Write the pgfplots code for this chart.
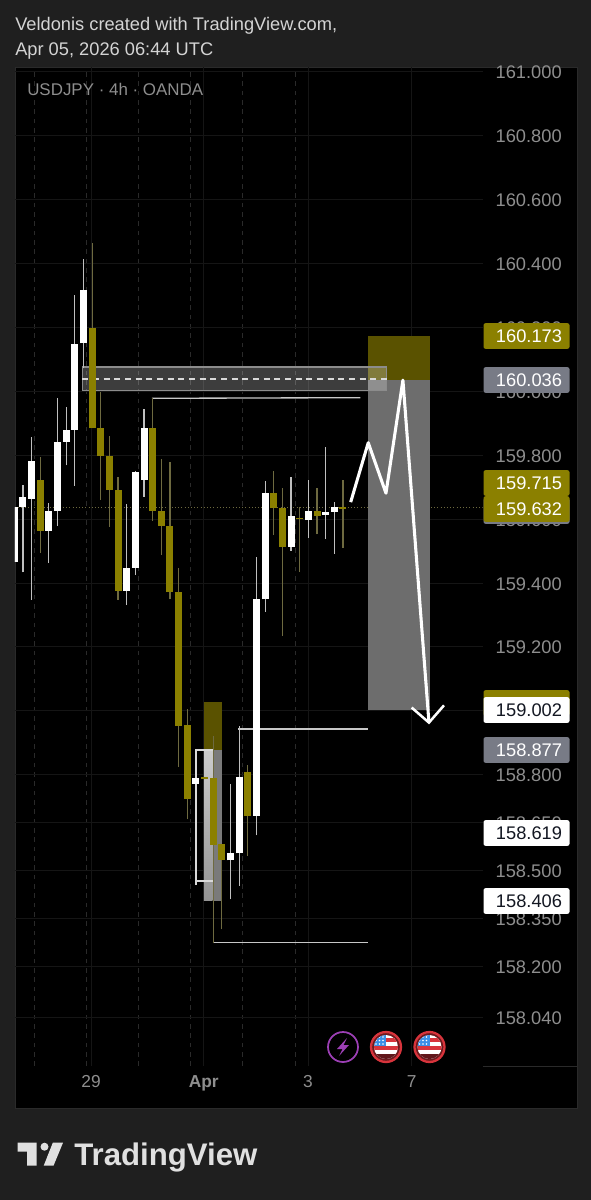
\documentclass[border=0pt]{standalone}
\usepackage{fontspec}
\setmainfont{Liberation Sans}
\usepackage{pgfplots}
\usepackage{pgfplotstable}
\pgfplotsset{compat=1.18}
\definecolor{bg}{HTML}{1F1F1F}
\definecolor{oliveb}{HTML}{8B8000}
\definecolor{olivew}{HTML}{6E6A40}
\definecolor{olived}{HTML}{5A5200}
\definecolor{tagg}{HTML}{787B86}
\definecolor{tickc}{HTML}{8E8E8E}
\definecolor{gridc}{HTML}{151515}
\definecolor{gridd}{HTML}{2A2A2A}
\definecolor{boxg}{HTML}{6D6D6D}
\definecolor{inkc}{HTML}{131722}
\definecolor{headc}{HTML}{D4D4D4}
\definecolor{purp}{HTML}{9C3FB5}
\definecolor{flagr}{HTML}{D8343C}
\definecolor{flagb}{HTML}{3A8FE6}

\pgfplotstableread{
i top bot hi lo
0 159.638 159.466 159.638 159.466
1 159.668 159.639 159.707 159.433
2 159.781 159.664 159.856 159.347
4 159.626 159.564 159.649 159.462
5 159.841 159.625 159.978 159.578
6 159.878 159.842 159.952 159.768
7 160.149 159.879 160.301 159.704
8 160.316 160.150 160.413 160.072
13 159.448 159.376 159.646 159.331
14 159.746 159.448 159.751 159.425
15 159.885 159.722 159.944 159.670
21 158.791 158.772 158.791 158.772
25 158.556 158.532 158.771 158.410
26 158.793 158.554 158.952 158.452
28 159.350 158.671 159.480 158.610
29 159.683 159.349 159.718 159.310
32 159.610 159.514 159.731 159.501
34 159.625 159.597 159.722 159.541
36 159.623 159.613 159.827 159.537
37 159.639 159.623 159.653 159.491
}\whitec
\pgfplotstableread{
i top bot hi lo
3 159.721 159.564 159.793 159.495
9 160.198 159.884 160.465 159.884
10 159.885 159.798 159.999 159.660
11 159.797 159.691 159.861 159.576
12 159.690 159.376 159.731 159.347
16 159.885 159.625 159.978 159.595
17 159.625 159.578 159.789 159.488
18 159.579 159.371 159.778 159.349
19 159.372 158.952 159.446 158.825
20 158.955 158.725 159.005 158.660
22 158.793 158.786 158.793 158.786
23 158.790 158.581 158.921 158.272
24 158.583 158.533 158.583 158.316
27 158.809 158.671 158.829 158.545
30 159.683 159.636 159.750 159.550
31 159.636 159.514 159.696 159.235
33 159.603 159.599 159.637 159.435
35 159.626 159.611 159.697 159.552
38 159.638 159.633 159.722 159.510
}\olivec

\newcommand\pricetag[4]{% centre y, bg, text colour, text
  \fill[#2,rounded corners=1.5pt] (483.5,#1-12.8) rectangle (569.5,#1+12.8);
  \node[text=#3,inner sep=0pt,font=\fontsize{13.7pt}{15pt}\selectfont] at (529,#1+0.5) {#4};
}
\newcommand\usflag[1]{%
  \begin{scope}[shift={(#1,1047)}]
    \fill[flagr!50!black] (0,0) circle (15);
    \draw[flagr,line width=1.7pt] (0,0) circle (15);
    \begin{scope}
      \clip (0,0) circle (12);
      \fill[white] (-13,-13) rectangle (13,13);
      \fill[flagr] (-13,-9) rectangle (13,-5);
      \fill[flagr] (-13,-1) rectangle (13,3);
      \fill[flagr!45!black] (-13,7) rectangle (13,13);
      \fill[flagb] (-13,-13) rectangle (0,-1);
      \foreach \a in {-10,-6.5,-3}{\foreach \b in {-10,-6.5,-3}{\fill[white] (\a,\b) circle (0.8);}}
    \end{scope}
  \end{scope}
}

\begin{document}
\begin{tikzpicture}
\begin{scope}[x=0.75pt,y=-0.75pt]
  \path[use as bounding box] (0,0) rectangle (591,1200);
  \fill[bg] (0,0) rectangle (591,1200);
  \fill[black] (15,67) rectangle (577,1108);
  \draw[gridd,line width=0.6pt] (15,67) rectangle (577,1108);
  \draw[gridd,line width=0.6pt] (482.5,1066) -- (577,1066);
\end{scope}
\begin{axis}[
  at={(11.25pt,-799.5pt)},anchor=south west,
  width=350.625pt,height=749.25pt,scale only axis,
  xmin=0.081,xmax=54.13,ymin=157.8881,ymax=161.015,
  axis line style={draw=none},
  major tick length=0pt,minor tick length=0pt,
  ytick pos=right,yticklabel pos=right,
  ytick={158.04,158.2,158.35,158.5,158.65,158.8,159,159.2,159.4,159.6,159.8,160,160.2,160.4,160.6,160.8,161},
  yticklabel style={anchor=east,xshift=59.6pt,yshift=-0.6pt,inner sep=0pt,text=tickc,font=\fontsize{13.7pt}{15pt}\selectfont,
    /pgf/number format/fixed,/pgf/number format/fixed zerofill,/pgf/number format/precision=3,
    /pgf/number format/1000 sep={},/pgf/number format/assume math mode=true},
  xtick={8.87,21.9,33.96,45.93},
  xticklabels={29,\textbf{Apr},3,7},
  xticklabel style={text=tickc,yshift=-7pt,inner sep=0pt,font=\fontsize{13pt}{15pt}\selectfont},
  minor xtick={2.36,8.37,14.4,20.4,26.4,32.5},
  xmajorgrids,xminorgrids,ymajorgrids,
  major grid style={gridc,line width=0.6pt},
  minor grid style={gridd,line width=0.6pt,dash pattern=on 3.5pt off 3.5pt},
  clip=true,
]
% price line
\addplot[olivew,line width=0.8pt,dash pattern=on 0.8pt off 1.6pt] coordinates {(0.081,159.636) (54.13,159.636)};
% position boxes
\addplot[fill=olived,draw=none] coordinates {(40.92,160.173) (48.06,160.173) (48.06,160.036) (40.92,160.036)} --cycle;
\addplot[fill=boxg,draw=none] coordinates {(40.92,160.036) (48.06,160.036) (48.06,159.002) (40.92,159.002)} --cycle;
\addplot[fill=olived,draw=none] coordinates {(21.93,159.027) (23.98,159.027) (23.98,158.877) (21.93,158.877)} --cycle;
\addplot[fill=black!52,draw=none] coordinates {(22.94,158.877) (23.98,158.877) (23.98,158.406) (22.94,158.406)} --cycle;
\addplot[top color=black!20,bottom color=black!42,draw=none] coordinates {(21.93,158.877) (22.94,158.877) (22.94,158.406) (21.93,158.406)} --cycle;
% supply zone
\addplot[fill=white,fill opacity=0.24,draw=white!55!black,line width=0.9pt] coordinates {(7.87,160.076) (43.05,160.076) (43.05,160.002) (7.87,160.002)} --cycle;
\addplot[white!85!black,line width=1.1pt,dash pattern=on 4.5pt off 3.5pt] coordinates {(7.87,160.038) (43.05,160.038)};
% level lines
\addplot[white!78!black,line width=1pt] coordinates {(15.92,159.978) (40,159.980)};
\addplot[white!78!black,line width=1pt] coordinates {(25.9,158.943) (40.92,158.943)};
\addplot[white!78!black,line width=1pt] coordinates {(22.94,158.275) (40.92,158.275)};
\addplot[white!85!black,line width=1.1pt] coordinates {(22.94,158.877) (21,158.877) (21,158.455)};
\addplot[white!85!black,line width=1.1pt] coordinates {(21,158.467) (22.94,158.467)};
% candles
\addplot[draw=none,no markers,forget plot,error bars/.cd,y dir=plus,y explicit,error mark=none,
  error bar style={line width=0.9pt,color=white!75!black}]
  table[x=i,y=lo,y error plus expr=\thisrow{hi}-\thisrow{lo}] {\whitec};
\addplot[draw=none,no markers,forget plot,error bars/.cd,y dir=plus,y explicit,error mark=none,
  error bar style={line width=0.9pt,color=olivew}]
  table[x=i,y=lo,y error plus expr=\thisrow{hi}-\thisrow{lo}] {\olivec};
\addplot[draw=none,no markers,forget plot,error bars/.cd,y dir=plus,y explicit,error mark=none,
  error bar style={line width=5.25pt,color=white}]
  table[x=i,y=bot,y error plus expr=\thisrow{top}-\thisrow{bot}] {\whitec};
\addplot[draw=none,no markers,forget plot,error bars/.cd,y dir=plus,y explicit,error mark=none,
  error bar style={line width=5.25pt,color=oliveb}]
  table[x=i,y=bot,y error plus expr=\thisrow{top}-\thisrow{bot}] {\olivec};
% projected path
\addplot[white,line width=2.3pt,line join=round] coordinates {(38.89,159.653) (40.92,159.839) (42.97,159.681) (44.93,160.035) (47.94,158.963)};
\addplot[white,line width=1.9pt,line join=miter] coordinates {(45.94,159.010) (47.94,158.963) (49.68,159.017)};
\end{axis}
\begin{scope}[x=0.75pt,y=-0.75pt]
  \pricetag{336}{oliveb}{white}{160.173}
  \pricetag{380}{tagg}{white}{160.036}
  \pricetag{511}{tagg}{white}{}
  \pricetag{483}{oliveb}{white}{159.715}
  \pricetag{509}{oliveb}{white}{159.632}
  \pricetag{703}{oliveb}{white}{}
  \pricetag{710}{white}{inkc}{159.002}
  \pricetag{750}{tagg}{white}{158.877}
  \pricetag{833}{white}{inkc}{158.619}
  \pricetag{901}{white}{inkc}{158.406}
  \node[anchor=base west,inner sep=0pt,text=headc,font=\fontsize{13.7pt}{15pt}\selectfont] at (15,30) {Veldonis created with TradingView.com,};
  \node[anchor=base west,inner sep=0pt,text=headc,font=\fontsize{13.7pt}{15pt}\selectfont] at (15,55) {Apr 05, 2026 06:44 UTC};
  \node[anchor=base west,inner sep=0pt,text=tickc,font=\fontsize{12.7pt}{15pt}\selectfont] at (27,95) {USDJPY · 4h · OANDA};
  % event icons
  \draw[purp,line width=1.3pt] (343,1047) circle (15);
  \fill[purp] (347,1038) -- (337,1049) -- (342.5,1049) -- (339,1056) -- (349,1045) -- (343.5,1045) -- cycle;
  \usflag{386}
  \usflag{429.5}
  % logo
  \fill[white!88!black] (17.7,1142.7) -- (36.6,1142.7) -- (36.6,1165.7) -- (27.2,1165.7) -- (27.2,1151.5) -- (17.7,1151.5) -- cycle;
  \fill[white!88!black] (44.5,1146.7) circle (4);
  \fill[white!88!black] (52.8,1142.7) -- (63,1142.7) -- (53.5,1165.7) -- (43.7,1165.7) -- cycle;
  \node[anchor=base west,inner sep=0pt,text=white!88!black,font=\fontsize{23.4pt}{28pt}\selectfont\bfseries] at (74,1165.7) {TradingView};
\end{scope}
\end{tikzpicture}
\end{document}
